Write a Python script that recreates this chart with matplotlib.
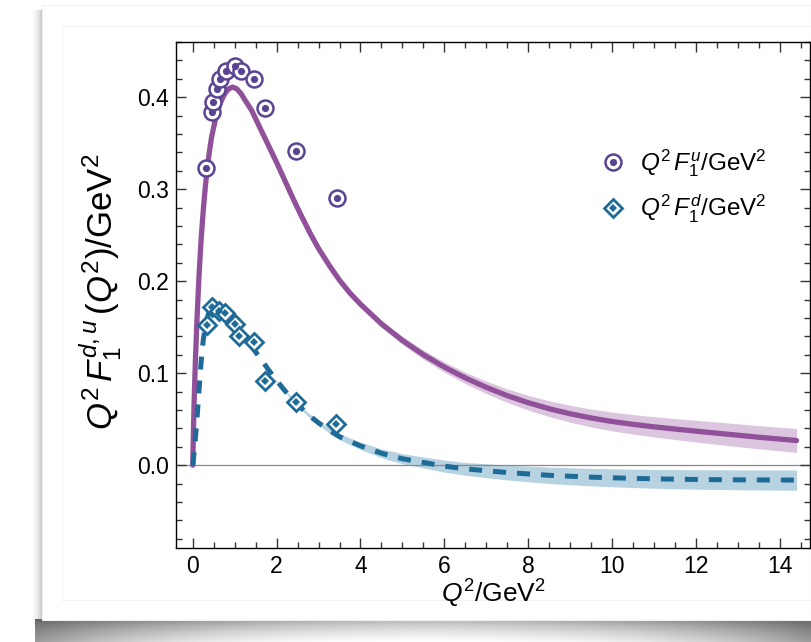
import numpy as np
import matplotlib
matplotlib.use("Agg")
import matplotlib.pyplot as plt
from matplotlib.lines import Line2D
from matplotlib.legend_handler import HandlerTuple
from matplotlib.ticker import MultipleLocator

plt.rcParams['font.family'] = ['Liberation Sans', 'DejaVu Sans']
plt.rcParams['mathtext.fontset'] = 'custom'
plt.rcParams['mathtext.rm'] = 'Liberation Sans'
plt.rcParams['mathtext.it'] = 'Liberation Sans:italic'
plt.rcParams['mathtext.bf'] = 'Liberation Sans:bold'

# ---------------- data ----------------
u_data_x = [0.31, 0.45, 0.49, 0.57, 0.66, 0.79, 1.0, 1.14, 1.46, 1.73, 2.47, 3.43]
u_data_y = [0.323, 0.384, 0.395, 0.409, 0.420, 0.429, 0.434, 0.428, 0.420, 0.388, 0.342, 0.290]

d_data_x = [0.33, 0.45, 0.63, 0.76, 1.0, 1.1, 1.46, 1.72, 2.47, 3.41]
d_data_y = [0.152, 0.172, 0.168, 0.165, 0.154, 0.140, 0.134, 0.092, 0.069, 0.045]

u_curve_x = [0, 0.01, 0.03, 0.06, 0.1, 0.15, 0.2, 0.25, 0.3, 0.35, 0.4, 0.45, 0.55,
             0.65, 0.75, 0.85, 0.95, 1.05, 1.15, 1.25, 1.4, 1.6, 1.8, 2.0, 2.2, 2.4,
             2.6, 2.8, 3.0, 3.25, 3.5, 3.75, 4.0, 4.5, 5.0, 5.5, 6.0, 6.5, 7.0, 7.5,
             8.0, 8.5, 9.0, 9.5, 10.0, 10.5, 11.0, 11.5, 12.0, 12.5, 13.0, 13.5, 14.0, 14.4]
u_curve_y = [0, 0.025, 0.065, 0.11, 0.158, 0.207, 0.246, 0.277, 0.303, 0.324, 0.342,
             0.357, 0.378, 0.393, 0.403, 0.409, 0.411, 0.409, 0.404, 0.3965, 0.386,
             0.367, 0.348, 0.329, 0.309, 0.289, 0.270, 0.252, 0.2355, 0.2175, 0.201,
             0.187, 0.175, 0.1536, 0.1356, 0.1201, 0.1066, 0.0949, 0.0846, 0.0756,
             0.0679, 0.0614, 0.0559, 0.0513, 0.0475, 0.0444, 0.0417, 0.0393, 0.0370,
             0.0348, 0.0326, 0.0304, 0.0284, 0.0268]
# uncertainty half-width of the u band, for u_curve_x >= 2
u_band_start = 23
u_band_hw = [0.001, 0.0012, 0.0014, 0.0016, 0.0018, 0.002, 0.0023, 0.0026, 0.0029,
             0.0032, 0.0038, 0.0044, 0.005, 0.0056, 0.0062, 0.0068, 0.0074, 0.008,
             0.0086, 0.0092, 0.0097, 0.0102, 0.0106, 0.011, 0.0114, 0.0118, 0.0121,
             0.0124, 0.0126, 0.0128, 0.013]

d_curve_x = [0, 0.05, 0.1, 0.15, 0.2, 0.25, 0.3, 0.35, 0.4, 0.45, 0.55, 0.65, 0.8,
             0.9, 1.0, 1.2, 1.4, 1.6, 1.8, 2.0, 2.25, 2.5, 2.75, 3.0, 3.25, 3.5, 3.75,
             4.0, 4.5, 5.0, 5.5, 6.0, 6.5, 7.0, 7.5, 8.0, 8.5, 9.0, 9.5, 10.0, 10.5,
             11.0, 11.5, 12.0, 12.5, 13.0, 13.5, 14.0, 14.4]
d_curve_y = [0, 0.022, 0.05, 0.082, 0.113, 0.136, 0.151, 0.161, 0.168, 0.172, 0.173,
             0.170, 0.163, 0.157, 0.151, 0.140, 0.129, 0.117, 0.104, 0.092, 0.078,
             0.066, 0.055, 0.046, 0.038, 0.031, 0.026, 0.021, 0.013, 0.007, 0.003,
             -0.001, -0.004, -0.006, -0.008, -0.0095, -0.011, -0.012, -0.013, -0.0137,
             -0.0143, -0.0148, -0.0152, -0.0155, -0.0157, -0.0159, -0.016, -0.0161, -0.0162]
# uncertainty half-width of the d band, for d_curve_x >= 2
d_band_start = 19
d_band_hw = [0.001, 0.0013, 0.0016, 0.002, 0.0024, 0.0028, 0.0032, 0.0036, 0.004,
             0.0048, 0.0055, 0.006, 0.0065, 0.007, 0.0075, 0.008, 0.0085, 0.0089,
             0.0092, 0.0095, 0.0098, 0.01, 0.0102, 0.0104, 0.0106, 0.0107, 0.0108,
             0.0109, 0.011, 0.011]

x_ticks = [0, 2, 4, 6, 8, 10, 12, 14]
y_ticks = [0.0, 0.1, 0.2, 0.3, 0.4]

label_u = r'$Q^2\,F_1^u/\mathrm{GeV}^2$'
label_d = r'$Q^2\,F_1^d/\mathrm{GeV}^2$'
x_label = r'$Q^2/\mathrm{GeV}^2$'
y_label = r'$Q^2\,F_1^{d,u}\,(Q^2)/\mathrm{GeV}^2$'

# ---------------- styling ----------------
c_u_line = '#91509a'
c_u_band = '#dcc6df'
c_u_mark = '#5b4394'
c_d_line = '#1f6b98'
c_d_band = '#b7d3e1'
c_d_mark = '#1f6b98'

W, H = 811, 642
fig = plt.figure(figsize=(W / 100, H / 100), dpi=100)
fig.patch.set_facecolor('white')

# background card with shadow
bg = fig.add_axes([0, 0, 1, 1], zorder=-10)
bg.set_xlim(0, W)
bg.set_ylim(H, 0)
bg.axis('off')
xs = np.linspace(0, 1, 30)
left_grad = np.tile(1 - 0.22 * xs ** 2, (10, 1))
bg.imshow(np.dstack([left_grad] * 3), extent=(30, 42, 625, 10), aspect='auto',
          interpolation='bilinear', zorder=1)
gx = np.linspace(-1, 1, 200)
gy = np.linspace(0, 1, 40)
GX, GY = np.meshgrid(gx, gy)
edge = 0.35 + 0.3 * np.abs(GX) ** 1.5
val = 1 - edge * (1 - GY ** 0.6 * (1 - 0.6 * np.abs(GX) ** 2))
val = np.clip(val, 0, 1)
bg.imshow(np.dstack([val] * 3), extent=(35, W, H, 619), aspect='auto',
          interpolation='bilinear', zorder=1)
bg.add_patch(plt.Rectangle((42, 5), W - 42, 615, facecolor='white',
                           edgecolor='#f0f0f0', lw=0.8, zorder=2))
bg.add_patch(plt.Rectangle((62, 26), W - 62, 574, facecolor='none',
                           edgecolor='#f2f2f2', lw=0.8, zorder=3))

ax = fig.add_axes([176 / W, 1 - 548 / H, (810 - 176) / W, (548 - 42) / H])
ax.set_facecolor('white')

ux = np.array(u_curve_x)
uy = np.array(u_curve_y)
dx = np.array(d_curve_x)
dy = np.array(d_curve_y)
uhw = np.array(u_band_hw)
dhw = np.array(d_band_hw)
ax.fill_between(ux[u_band_start:], uy[u_band_start:] - uhw, uy[u_band_start:] + uhw,
                color=c_u_band, lw=0, zorder=1)
ax.fill_between(dx[d_band_start:], dy[d_band_start:] - dhw, dy[d_band_start:] + dhw,
                color=c_d_band, lw=0, zorder=1)
ax.axhline(0, color='#8a8a8a', lw=0.9, zorder=1.5)
ax.plot(ux, uy, color=c_u_line, lw=3.8, solid_capstyle='round',
        solid_joinstyle='round', zorder=2)
ax.plot(dx, dy, color=c_d_line, lw=3.6, dashes=(2.6, 2.2),
        dash_capstyle='butt', zorder=2)

ax.plot(d_data_x, d_data_y, ls='none', marker='D', ms=9.5, mfc='white',
        mec=c_d_mark, mew=2.0, zorder=5)
ax.plot(d_data_x, d_data_y, ls='none', marker='D', ms=4.2, mfc=c_d_mark,
        mec=c_d_mark, mew=0, zorder=6)
ax.plot(u_data_x, u_data_y, ls='none', marker='o', ms=11.5, mfc='white',
        mec=c_u_mark, mew=1.8, zorder=5)
ax.plot(u_data_x, u_data_y, ls='none', marker='o', ms=5.2, mfc=c_u_mark,
        mec=c_u_mark, mew=0, zorder=6)

ax.set_xlim(-0.4, 14.72)
ax.set_ylim(-0.09, 0.46)
ax.set_xticks(x_ticks)
ax.set_yticks(y_ticks)
ax.set_yticklabels([f'{v:.1f}' for v in y_ticks])
ax.xaxis.set_minor_locator(MultipleLocator(0.5))
ax.yaxis.set_minor_locator(MultipleLocator(0.02))
ax.tick_params(which='both', direction='in', top=True, right=True, labelsize=16.5,
               width=1.0, color='#333333', pad=5)
ax.tick_params(which='major', length=7)
ax.tick_params(which='minor', length=4)
for s in ax.spines.values():
    s.set_linewidth(1.0)
    s.set_color('black')

fig.text(493 / W, 1 - 594 / H, x_label, fontsize=19, ha='center', va='center')
fig.text(101 / W, 1 - 292 / H, y_label, fontsize=25, ha='center', va='center',
         rotation=90)

h_u = (Line2D([], [], ls='none', marker='o', ms=11.5, mfc='white', mec=c_u_mark, mew=1.8),
       Line2D([], [], ls='none', marker='o', ms=5.2, mfc=c_u_mark, mec=c_u_mark, mew=0))
h_d = (Line2D([], [], ls='none', marker='D', ms=9.5, mfc='white', mec=c_d_mark, mew=2.0),
       Line2D([], [], ls='none', marker='D', ms=4.2, mfc=c_d_mark, mec=c_d_mark, mew=0))
ax.legend([h_u, h_d], [label_u, label_d], handler_map={tuple: HandlerTuple(ndivide=1)},
          loc='upper left', bbox_to_anchor=(601 / W, 1 - 147 / H),
          bbox_transform=fig.transFigure, frameon=False, fontsize=17.5,
          handlelength=1.0, handletextpad=0.6, labelspacing=0.6,
          borderpad=0, borderaxespad=0)

fig.savefig('out.png', dpi=100, facecolor=fig.get_facecolor())
